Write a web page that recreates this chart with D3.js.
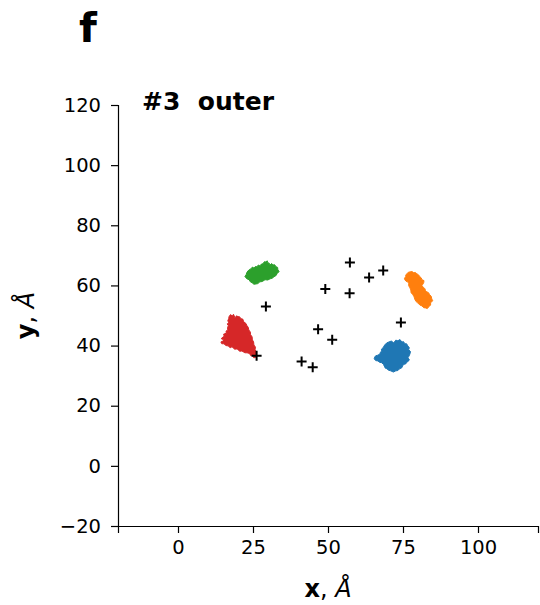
<!DOCTYPE html>
<html>
<head>
<meta charset="utf-8">
<script src="https://cdn.jsdelivr.net/npm/d3@7"></script>
<style>
  html, body { margin: 0; padding: 0; background: #fff; }
  svg { display: block; }
</style>
</head>
<body>
<div id="chart"></div>
<script>
// Panel f, configuration #3 (outer): sampled x/y positions of four tracked
// particles (filled regions covered by their trajectories) plus reference sites.

const xTicks = [0, 25, 50, 75, 100];
const yTicks = [-20, 0, 20, 40, 60, 80, 100, 120];

// reference sites (Å)
const sitesX = [57.3, 68.4, 63.7, 49.1, 57.2, 29.3, 74.3, 46.7, 51.4, 26.2, 41.2, 44.9];
const sitesY = [67.6, 65.0, 62.6, 58.8, 57.4, 53.0, 47.7, 45.4, 41.9, 36.6, 34.7, 32.8];

// outlines of the regions visited by each particle, [x, y] in Å
const blueRegion = [
  [68.9, 40.2], [69.6, 40.9], [70.3, 41.2], [71.1, 41.5], [71.9, 40.9], [72.6, 41.8], [73.3, 41.6],
  [74.0, 42.0], [74.6, 41.2], [75.2, 41.3], [75.6, 40.6], [76.2, 40.6], [76.6, 39.9], [77.1, 39.3],
  [76.9, 38.6], [77.5, 38.0], [77.3, 37.2], [77.0, 36.5], [76.6, 35.9], [77.1, 35.4], [76.9, 34.9],
  [76.3, 34.5], [75.9, 33.9], [75.4, 33.8], [74.9, 33.3], [74.6, 32.6], [73.9, 32.3], [73.3, 31.7],
  [72.6, 31.6], [71.8, 31.2], [70.9, 31.6], [70.2, 31.8], [69.6, 32.3], [69.1, 32.5], [68.9, 32.9],
  [68.5, 33.7], [67.9, 34.3], [67.3, 34.4], [66.6, 34.9], [65.9, 35.0], [65.4, 35.6], [65.6, 36.2],
  [65.9, 36.6], [66.6, 36.8], [67.3, 37.2], [67.5, 37.8], [67.9, 38.2], [67.8, 38.8], [68.3, 39.2]
];
const orangeRegion = [
  [76.3, 63.9], [76.8, 64.4], [77.3, 64.5], [78.0, 64.6], [78.6, 64.2], [79.1, 64.3], [79.6, 63.9],
  [80.2, 63.5], [80.6, 62.9], [81.1, 62.5], [81.3, 61.9], [82.0, 61.6], [81.9, 60.9], [81.6, 60.4],
  [81.3, 59.9], [81.8, 59.4], [82.3, 58.9], [82.5, 58.3], [82.9, 57.9], [83.5, 57.6], [83.9, 56.9],
  [84.4, 56.4], [84.6, 55.5], [84.9, 54.9], [84.2, 54.2], [84.2, 53.5], [83.6, 52.9], [83.1, 52.3],
  [82.6, 52.5], [81.9, 52.6], [81.3, 53.2], [80.6, 53.5], [79.9, 54.2], [79.3, 54.7], [78.9, 55.5],
  [78.7, 56.2], [78.3, 56.9], [77.7, 57.6], [77.6, 58.5], [77.3, 59.2], [76.9, 59.9], [76.9, 60.6],
  [76.6, 61.2], [76.0, 61.4], [75.6, 61.9], [75.5, 62.4], [75.9, 62.9], [75.9, 63.4]
];
const greenRegion = [
  [22.7, 63.5], [22.9, 64.2], [23.3, 64.8], [23.8, 65.3], [24.3, 65.5], [24.8, 66.1], [25.3, 65.8],
  [25.8, 66.3], [26.3, 66.2], [26.8, 66.8], [27.3, 66.5], [27.8, 67.1], [28.3, 67.2], [28.8, 67.9],
  [29.3, 67.8], [29.7, 68.2], [30.0, 67.5], [30.4, 67.4], [30.7, 66.8], [31.2, 67.3], [31.7, 66.8],
  [32.2, 66.9], [32.7, 66.2], [33.2, 66.0], [33.3, 65.2], [33.7, 64.6], [33.0, 63.9], [32.7, 63.3],
  [32.0, 62.9], [31.4, 62.4], [30.7, 62.2], [29.9, 61.8], [29.0, 61.9], [28.1, 61.3], [27.3, 61.2],
  [26.6, 60.6], [26.0, 60.5], [25.3, 60.4], [24.7, 60.9], [24.1, 61.2], [23.7, 61.9], [23.1, 62.1],
  [22.7, 62.5], [22.3, 63.0]
];
const redRegion = [
  [17.0, 49.6], [17.5, 50.3], [18.0, 49.9], [18.5, 50.4], [19.0, 49.2], [19.5, 49.9], [20.0, 49.6],
  [20.5, 49.6], [21.0, 48.9], [21.6, 48.8], [21.9, 47.9], [22.6, 47.4], [23.0, 46.6], [23.4, 46.1],
  [23.6, 45.2], [24.1, 44.5], [24.2, 43.6], [24.7, 42.9], [24.8, 41.9], [25.2, 41.2], [25.3, 40.2],
  [25.8, 39.5], [25.7, 38.6], [26.2, 37.8], [26.0, 36.9], [25.9, 36.1], [25.3, 35.9], [24.9, 36.6],
  [24.3, 36.6], [23.8, 37.4], [23.0, 37.6], [22.3, 37.6], [21.3, 38.2], [20.6, 38.1], [19.7, 38.9],
  [18.9, 38.8], [18.0, 39.6], [17.4, 39.3], [16.7, 39.9], [16.0, 40.0], [15.3, 40.6], [14.6, 40.6],
  [14.3, 41.2], [15.0, 41.5], [15.3, 41.9], [14.4, 42.3], [14.7, 42.6], [15.4, 43.1], [15.2, 43.8],
  [16.1, 44.1], [16.0, 44.8], [16.6, 45.2], [16.5, 46.0], [16.8, 46.6], [16.4, 47.2], [16.9, 47.6],
  [16.6, 48.3], [16.9, 48.9]
];

const regions = [
  { name: "blue", points: blueRegion, color: "#1f77b4" },
  { name: "orange", points: orangeRegion, color: "#ff7f0e" },
  { name: "green", points: greenRegion, color: "#2ca02c" },
  { name: "red", points: redRegion, color: "#d62728" }
];

const width = 540, height = 605;
const margin = { left: 118, right: 2, top: 105, bottom: 79 };

const svg = d3.select("#chart").append("svg")
  .attr("width", width).attr("height", height)
  .attr("viewBox", `0 0 ${width} ${height}`);

const x = d3.scaleLinear().domain([-20, 120]).range([margin.left, width - margin.right]);
const y = d3.scaleLinear().domain([-20, 120]).range([height - margin.bottom, margin.top]);

// trajectory regions
const line = d3.line().x(d => x(d[0])).y(d => y(d[1])).curve(d3.curveLinearClosed);
svg.append("g").selectAll("path")
  .data(regions)
  .join("path")
  .attr("d", d => line(d.points))
  .attr("fill", d => d.color)
  .attr("stroke", d => d.color)
  .attr("stroke-width", 1)
  .attr("stroke-linejoin", "miter");

// reference sites as "+" markers
const sites = sitesX.map((v, i) => [v, sitesY[i]]);
const arm = 5;
svg.append("g").selectAll("path")
  .data(sites)
  .join("path")
  .attr("transform", d => `translate(${x(d[0])},${y(d[1])})`)
  .attr("d", `M${-arm},0H${arm}M0,${-arm}V${arm}`)
  .attr("stroke", "#000")
  .attr("stroke-width", 2)
  .attr("fill", "none");

// axes
const axisFont = "DejaVu Sans, sans-serif";
const gx = svg.append("g")
  .attr("transform", `translate(0,${height - margin.bottom})`)
  .call(d3.axisBottom(x).tickValues(xTicks).tickSizeOuter(0).tickSize(7).tickPadding(7));
const gy = svg.append("g")
  .attr("transform", `translate(${margin.left},0)`)
  .call(d3.axisLeft(y).tickValues(yTicks).tickSizeOuter(0).tickSize(7).tickPadding(10)
    .tickFormat(d => d < 0 ? "\u2212" + Math.abs(d) : d));

[gx, gy].forEach(g => {
  g.selectAll("path.domain").attr("stroke", "#000").attr("stroke-width", 1.2);
  g.selectAll(".tick line").attr("stroke", "#000").attr("stroke-width", 1.2);
  g.selectAll(".tick text").attr("fill", "#000")
    .style("font-family", axisFont).style("font-size", "19.5px");
});

// axis titles
const xl = svg.append("text")
  .attr("x", (x.range()[0] + x.range()[1]) / 2)
  .attr("y", 597)
  .attr("text-anchor", "middle")
  .style("font-family", axisFont).style("font-size", "24px");
xl.append("tspan").attr("font-weight", "bold").text("x");
xl.append("tspan").text(", ");
xl.append("tspan").attr("font-style", "italic").text("Å");

const yl = svg.append("text")
  .attr("transform", `translate(34,${(y.range()[0] + y.range()[1]) / 2}) rotate(-90)`)
  .attr("text-anchor", "middle")
  .style("font-family", axisFont).style("font-size", "24px");
yl.append("tspan").attr("font-weight", "bold").text("y");
yl.append("tspan").text(", ");
yl.append("tspan").attr("font-style", "italic").text("Å");

// panel title and letter
svg.append("text")
  .attr("x", 142).attr("y", 110)
  .style("font-family", axisFont).style("font-size", "25px").style("font-weight", "bold")
  .attr("xml:space", "preserve")
  .text("#3\u00a0\u00a0outer");

svg.append("text")
  .attr("x", 79).attr("y", 42)
  .style("font-family", axisFont).style("font-size", "41px").style("font-weight", "bold")
  .text("f");
</script>
</body>
</html>
